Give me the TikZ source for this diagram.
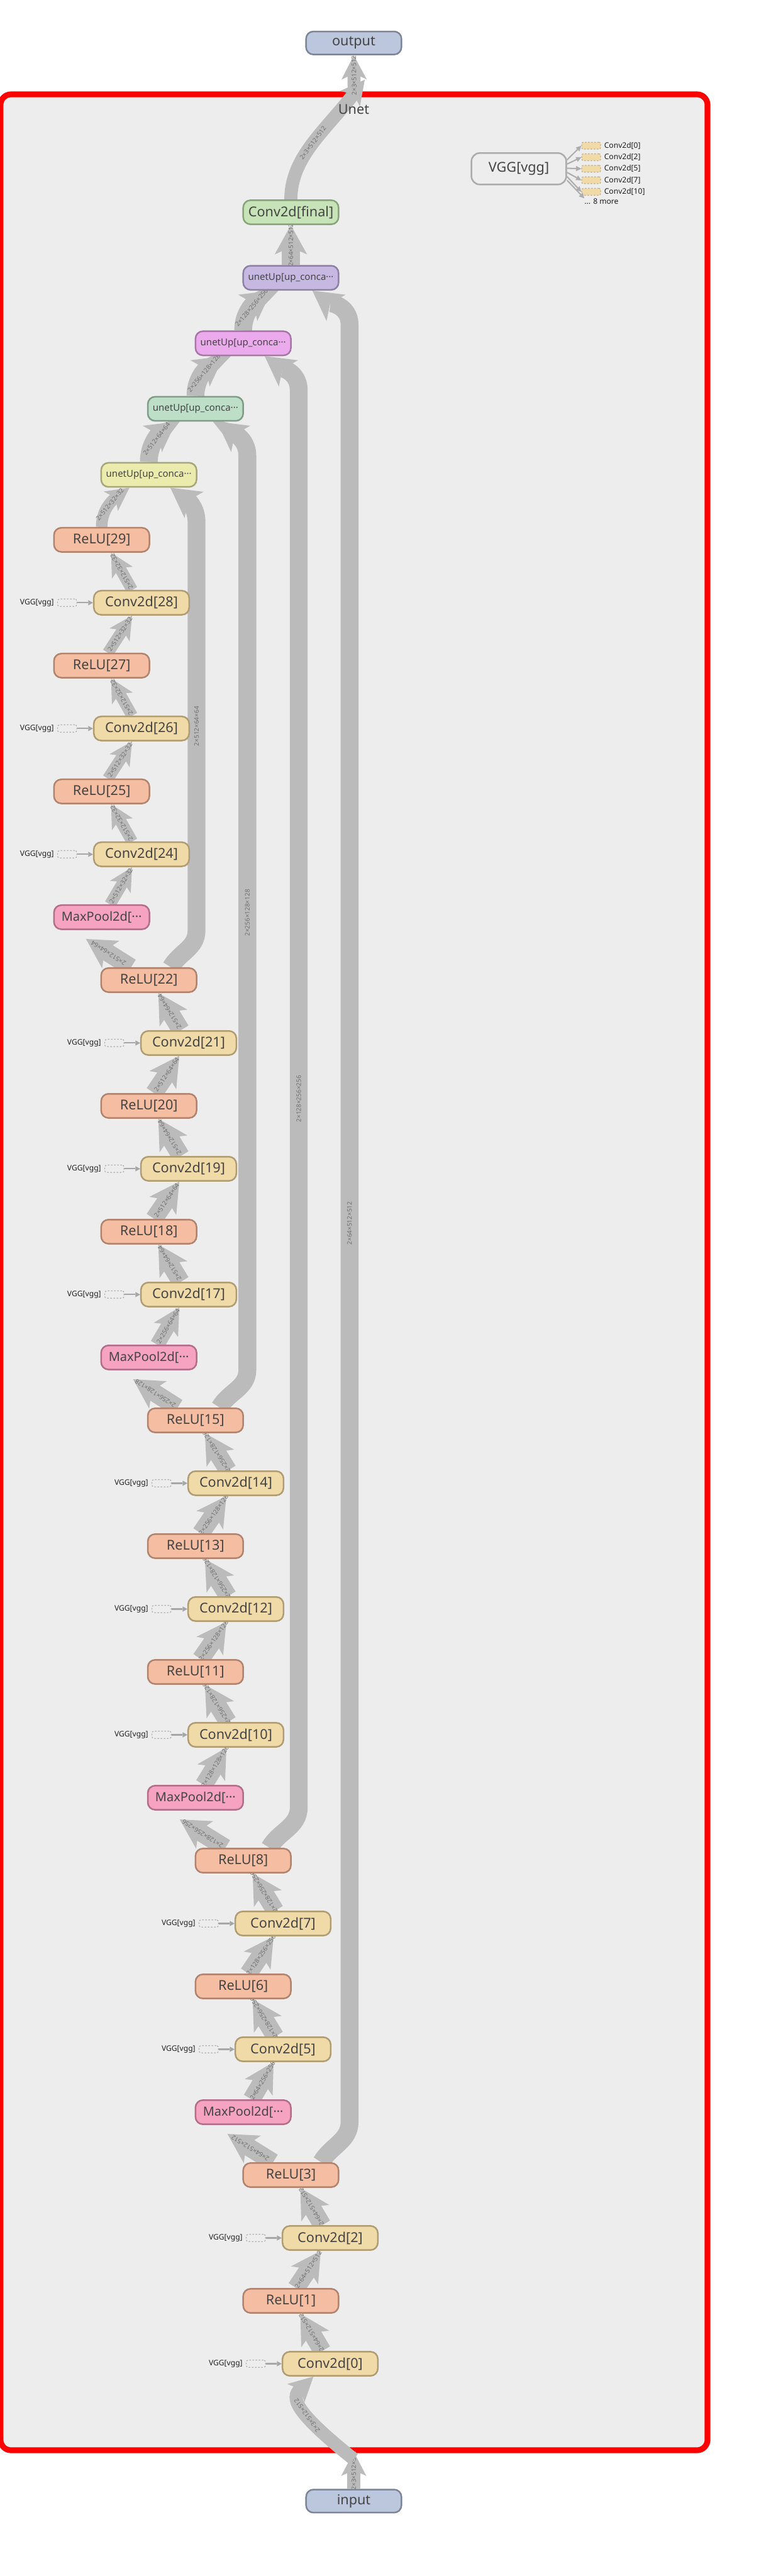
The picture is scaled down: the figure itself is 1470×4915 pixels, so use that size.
\documentclass[tikz,border=0pt]{standalone}
\usepackage{fontspec}
\setmainfont{Noto Sans}
\usetikzlibrary{arrows.meta,positioning}

\definecolor{panel}{HTML}{EDEDED}
\definecolor{wire}{HTML}{BBBBBB}
\definecolor{ink}{HTML}{444444}
\definecolor{dimink}{HTML}{707070}
\definecolor{reluF}{HTML}{F5BEA2}\definecolor{reluD}{HTML}{B0836E}
\definecolor{convF}{HTML}{F0DAA8}\definecolor{convD}{HTML}{B09C72}
\definecolor{poolF}{HTML}{F5A3C0}\definecolor{poolD}{HTML}{B26E88}
\definecolor{upYF}{HTML}{EBEBAE}\definecolor{upYD}{HTML}{A6A67A}
\definecolor{upGF}{HTML}{BDDEC7}\definecolor{upGD}{HTML}{7F9C88}
\definecolor{upPF}{HTML}{EBAAEB}\definecolor{upPD}{HTML}{A676A6}
\definecolor{upVF}{HTML}{C7B8E2}\definecolor{upVD}{HTML}{8C80A4}
\definecolor{finF}{HTML}{C7E3B8}\definecolor{finD}{HTML}{88A27A}
\definecolor{ioF}{HTML}{BCC6DC}\definecolor{ioD}{HTML}{7C8598}

\pgfdeclarelayer{backdrop}
\pgfdeclarelayer{wires}
\pgfsetlayers{backdrop,wires,main}

\begin{document}
\begin{tikzpicture}[x=1pt, y=1pt,
    op/.style={draw, line width=3pt, rounded corners=14pt, minimum width=182pt, minimum height=46pt, inner sep=0pt, text=ink, font=\fontsize{26}{30}\selectfont},
    relu/.style={op, fill=reluF, draw=reluD},
    conv/.style={op, fill=convF, draw=convD},
    pool/.style={op, fill=poolF, draw=poolD, font=\fontsize{24}{28}\selectfont},
    up/.style={op, font=\fontsize{18}{22}\selectfont},
    io/.style={op, fill=ioF, draw=ioD, minimum height=44pt},
    wireS/.style={draw=wire, line width=22pt, -{Stealth[length=44pt,width=46pt,inset=11pt,line width=0pt]}},
    wireT/.style={draw=wire, line width=25pt, -{Stealth[length=46pt,width=48pt,inset=11pt,line width=0pt]}},
    wireM/.style={draw=wire, line width=28pt, -{Stealth[length=50pt,width=54pt,inset=12pt,line width=0pt]}},
    wireL/.style={draw=wire, line width=34pt, -{Stealth[length=56pt,width=62pt,inset=14pt,line width=0pt]}},
    dim/.style={sloped, allow upside down, inner sep=0pt, text=dimink, font=\fontsize{12}{12}\selectfont},
    stub/.style={draw=black!30, dashed, line width=1.5pt, rounded corners=4pt, minimum width=37pt, minimum height=14pt, inner sep=0pt},
    mini/.style={draw=convD!80, dashed, fill=convF, line width=1.5pt, rounded corners=3pt, minimum width=36pt, minimum height=13pt, inner sep=0pt},
    stubtxt/.style={inner sep=0pt, text=black!88, font=\fontsize{14.5}{16}\selectfont},
    tap/.style={draw=black!35, line width=2.5pt, -{Triangle[length=9pt,width=10pt,line width=0pt]}},
    fan/.style={draw=black!32, line width=2.5pt, -{Triangle[length=10pt,width=10pt,line width=0pt]}}
]
\useasboundingbox (0,0) rectangle (1470,-4915);

\begin{pgfonlayer}{backdrop}
\draw[red, line width=11pt, fill=panel, rounded corners=20pt] (1,-180) rectangle (1350,-4675);
\end{pgfonlayer}

% outside the panel
\node[io] (outp) at (675,-82) {output};
\node[io] (inp) at (675,-4772) {input};
\node[text=ink, font=\fontsize{26}{30}\selectfont] (title) at (675,-209) {Unet};

% vgg summary, top right
\node[op, fill=panel, draw=black!33, minimum width=181pt, minimum height=60pt, rounded corners=16pt] (vgg) at (990,-322) {VGG[vgg]};
\node[mini] (m0) at (1128,-278) {};
\node[mini] (m1) at (1128,-300) {};
\node[mini] (m2) at (1128,-322) {};
\node[mini] (m3) at (1128,-344) {};
\node[mini] (m4) at (1128,-366) {};
\node[stubtxt, right=6pt of m0] {Conv2d[0]};
\node[stubtxt, right=6pt of m1] {Conv2d[2]};
\node[stubtxt, right=6pt of m2] {Conv2d[5]};
\node[stubtxt, right=6pt of m3] {Conv2d[7]};
\node[stubtxt, right=6pt of m4] {Conv2d[10]};
\node[stubtxt, anchor=west] (more) at (1115,-384) {... 8 more};
\draw[fan] ([yshift=17pt]vgg.east) -- (m0.west);
\draw[fan] ([yshift=9pt]vgg.east) -- (m1.west);
\draw[fan] ([yshift=1pt]vgg.east) -- (m2.west);
\draw[fan] ([yshift=-7pt]vgg.east) -- (m3.west);
\draw[fan] ([yshift=-15pt]vgg.east) -- (m4.west);
\draw[fan] ([yshift=-22pt]vgg.east) -- (more.north west);

% decoder
\node[op, fill=finF, draw=finD] (fin) at (555,-405) {Conv2d[final]};
\node[up, fill=upVF, draw=upVD] (up1) at (555,-530) {unetUp[up\_conca···};
\node[up, fill=upPF, draw=upPD] (up2) at (464,-655) {unetUp[up\_conca···};
\node[up, fill=upGF, draw=upGD] (up3) at (373,-780) {unetUp[up\_conca···};
\node[up, fill=upYF, draw=upYD] (up4) at (284,-906) {unetUp[up\_conca···};

% encoder, deepest first
\node[relu] (r29) at (194,-1030) {ReLU[29]};
\node[conv] (c28) at (270,-1150) {Conv2d[28]};
\node[relu] (r27) at (194,-1270) {ReLU[27]};
\node[conv] (c26) at (270,-1390) {Conv2d[26]};
\node[relu] (r25) at (194,-1510) {ReLU[25]};
\node[conv] (c24) at (270,-1630) {Conv2d[24]};
\node[pool] (mp4) at (194,-1750) {MaxPool2d[···};

\node[relu] (r22) at (284,-1870) {ReLU[22]};
\node[conv] (c21) at (360,-1990) {Conv2d[21]};
\node[relu] (r20) at (284,-2110) {ReLU[20]};
\node[conv] (c19) at (360,-2230) {Conv2d[19]};
\node[relu] (r18) at (284,-2350) {ReLU[18]};
\node[conv] (c17) at (360,-2470) {Conv2d[17]};
\node[pool] (mp3) at (284,-2590) {MaxPool2d[···};

\node[relu] (r15) at (373,-2710) {ReLU[15]};
\node[conv] (c14) at (450,-2830) {Conv2d[14]};
\node[relu] (r13) at (373,-2950) {ReLU[13]};
\node[conv] (c12) at (450,-3070) {Conv2d[12]};
\node[relu] (r11) at (373,-3190) {ReLU[11]};
\node[conv] (c10) at (450,-3310) {Conv2d[10]};
\node[pool] (mp2) at (373,-3430) {MaxPool2d[···};

\node[relu] (r8) at (464,-3550) {ReLU[8]};
\node[conv] (c7) at (540,-3670) {Conv2d[7]};
\node[relu] (r6) at (464,-3790) {ReLU[6]};
\node[conv] (c5) at (540,-3910) {Conv2d[5]};
\node[pool] (mp1) at (464,-4030) {MaxPool2d[···};

\node[relu] (r3) at (555,-4150) {ReLU[3]};
\node[conv] (c2) at (630,-4270) {Conv2d[2]};
\node[relu] (r1) at (555,-4390) {ReLU[1]};
\node[conv] (c0) at (630,-4510) {Conv2d[0]};

% weights coming in from vgg
\foreach \c in {c0,c2,c5,c7,c10,c12,c14,c17,c19,c21,c24,c26,c28} {
  \node[stub, left=30pt of \c] (s\c) {};
  \node[stubtxt, left=6pt of s\c] {VGG[vgg]};
  \draw[tap] (s\c) -- (\c);
}

\begin{pgfonlayer}{wires}
% in and out of the panel
\coordinate (inport) at (675,-4678);
\coordinate (outport) at (676,-182);
\draw[wireT] (inp.north) -- node[dim]{2×3×512×512} (inport);
\draw[wireT] ([yshift=-14pt]inport) .. controls (560,-4600) and (555,-4575) .. node[dim, pos=0.4]{2×3×512×512} ([xshift=-32pt]c0.south);
\draw[wireT] (fin.north) .. controls (555,-300) and (620,-250) .. node[dim, pos=0.5]{2×3×512×512} ([xshift=20pt,yshift=30pt]outport);
\draw[wireT] (outport) -- node[dim]{2×3×512×512} (outp.south);

% level 0
\draw[wireL] ([xshift=-15pt]c0.north) -- node[dim]{2×64×512×512} ([xshift=18pt]r1.south);
\draw[wireL] ([xshift=10pt]r1.north) -- node[dim]{2×64×512×512} ([xshift=-18pt]c2.south);
\draw[wireL] ([xshift=-15pt]c2.north) -- node[dim]{2×64×512×512} ([xshift=18pt]r3.south);
\draw[wireL] ([xshift=-34pt]r3.north) -- node[dim]{2×64×512×512} ([xshift=-30pt,yshift=-17pt]mp1.south);
\draw[wireL] ([xshift=58pt]r3.north) to[out=60,in=-90] ++(54,77) -- node[dim]{2×64×512×512} ([xshift=112pt,yshift=-65pt]up1.south) to[out=90,in=-36] ([xshift=41pt]up1.south);
\draw[wireL] ([xshift=16pt]mp1.north) -- node[dim]{2×64×256×256} ([xshift=-18pt]c5.south);

% level 1
\draw[wireL] ([xshift=-15pt]c5.north) -- node[dim]{2×128×256×256} ([xshift=18pt]r6.south);
\draw[wireL] ([xshift=10pt]r6.north) -- node[dim]{2×128×256×256} ([xshift=-18pt]c7.south);
\draw[wireL] ([xshift=-15pt]c7.north) -- node[dim]{2×128×256×256} ([xshift=18pt]r8.south);
\draw[wireL] ([xshift=-34pt]r8.north) -- node[dim]{2×128×256×256} ([xshift=-30pt,yshift=-17pt]mp2.south);
\draw[wireL] ([xshift=50pt]r8.north) to[out=60,in=-90] ++(56,77) -- node[dim]{2×128×256×256} ([xshift=106pt,yshift=-65pt]up2.south) to[out=90,in=-36] ([xshift=41pt]up2.south);
\draw[wireL] ([xshift=16pt]mp2.north) -- node[dim]{2×128×128×128} ([xshift=-18pt]c10.south);

% level 2
\draw[wireL] ([xshift=-15pt]c10.north) -- node[dim]{2×256×128×128} ([xshift=18pt]r11.south);
\draw[wireL] ([xshift=10pt]r11.north) -- node[dim]{2×256×128×128} ([xshift=-18pt]c12.south);
\draw[wireL] ([xshift=-15pt]c12.north) -- node[dim]{2×256×128×128} ([xshift=18pt]r13.south);
\draw[wireL] ([xshift=10pt]r13.north) -- node[dim]{2×256×128×128} ([xshift=-18pt]c14.south);
\draw[wireL] ([xshift=-15pt]c14.north) -- node[dim]{2×256×128×128} ([xshift=18pt]r15.south);
\draw[wireL] ([xshift=-34pt]r15.north) -- node[dim]{2×256×128×128} ([xshift=-30pt,yshift=-17pt]mp3.south);
\draw[wireL] ([xshift=46pt]r15.north) to[out=60,in=-90] ++(53,72) -- node[dim]{2×256×128×128} ([xshift=99pt,yshift=-65pt]up3.south) to[out=90,in=-36] ([xshift=41pt]up3.south);
\draw[wireM] ([xshift=16pt]mp3.north) -- node[dim]{2×256×64×64} ([xshift=-18pt]c17.south);

% level 3
\draw[wireL] ([xshift=-15pt]c17.north) -- node[dim]{2×512×64×64} ([xshift=18pt]r18.south);
\draw[wireL] ([xshift=10pt]r18.north) -- node[dim]{2×512×64×64} ([xshift=-18pt]c19.south);
\draw[wireL] ([xshift=-15pt]c19.north) -- node[dim]{2×512×64×64} ([xshift=18pt]r20.south);
\draw[wireL] ([xshift=10pt]r20.north) -- node[dim]{2×512×64×64} ([xshift=-18pt]c21.south);
\draw[wireL] ([xshift=-15pt]c21.north) -- node[dim]{2×512×64×64} ([xshift=18pt]r22.south);
\draw[wireL] ([xshift=-34pt]r22.north) -- node[dim]{2×512×64×64} ([xshift=-30pt,yshift=-17pt]mp4.south);
\draw[wireL] ([xshift=42pt]r22.north) to[out=60,in=-90] ++(49,70) -- node[dim]{2×512×64×64} ([xshift=91pt,yshift=-65pt]up4.south) to[out=90,in=-36] ([xshift=41pt]up4.south);
\draw[wireS] ([xshift=16pt]mp4.north) -- node[dim]{2×512×32×32} ([xshift=-18pt]c24.south);

% level 4
\draw[wireS] ([xshift=-18pt]c24.north) -- node[dim]{2×512×32×32} ([xshift=18pt]r25.south);
\draw[wireS] ([xshift=12pt]r25.north) -- node[dim]{2×512×32×32} ([xshift=-18pt]c26.south);
\draw[wireS] ([xshift=-18pt]c26.north) -- node[dim]{2×512×32×32} ([xshift=18pt]r27.south);
\draw[wireS] ([xshift=12pt]r27.north) -- node[dim]{2×512×32×32} ([xshift=-18pt]c28.south);
\draw[wireS] ([xshift=-18pt]c28.north) -- node[dim]{2×512×32×32} ([xshift=18pt]r29.south);

% decoder chain
\draw[wireS] (r29.north) to[out=90,in=-144] node[dim]{2×512×32×32} ([xshift=-37pt]up4.south);
\draw[wireL] (up4.north) to[out=90,in=-144] node[dim]{2×512×64×64} ([xshift=-37pt]up3.south);
\draw[wireL] (up3.north) to[out=90,in=-144] node[dim]{2×256×128×128} ([xshift=-37pt]up2.south);
\draw[wireL] (up2.north) to[out=90,in=-144] node[dim]{2×128×256×256} ([xshift=-37pt]up1.south);
\draw[wireL] (up1.north) -- node[dim]{2×64×512×512} (fin.south);
\end{pgfonlayer}
\end{tikzpicture}
\end{document}
